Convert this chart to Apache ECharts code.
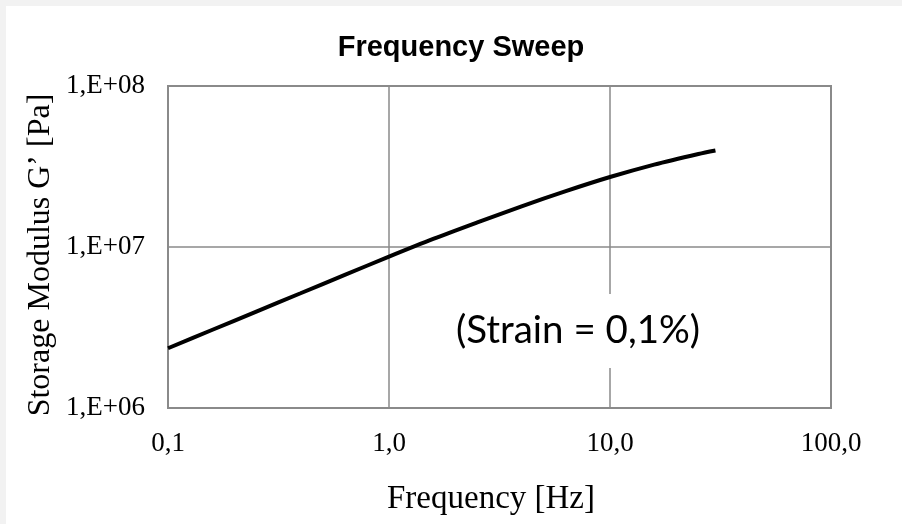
<!DOCTYPE html>
<html><head><meta charset="utf-8">
<script src="https://cdn.jsdelivr.net/npm/echarts@6/dist/echarts.min.js"></script>
<style>html,body{margin:0;padding:0;background:#fff}#c{width:902px;height:524px}</style>
</head><body><div id="c"></div>
<script>
const frequencies = [0.1, 0.158, 0.251, 0.398, 0.631, 1.0, 1.585, 2.512, 3.981, 6.31, 10, 15.85, 25.12, 30];
const storageModulus = [2.35e6, 3.05e6, 3.97e6, 5.16e6, 6.71e6, 8.71e6, 1.122e7, 1.422e7, 1.79e7, 2.223e7, 2.72e7, 3.25e7, 3.784e7, 3.98e7];
const xTickLabels = ['0,1', '1,0', '10,0', '100,0'];
const yTickLabels = ['1,E+06', '1,E+07', '1,E+08'];
const titleText = 'Frequency Sweep';
const xName = 'Frequency [Hz]';
const yName = 'Storage Modulus G’ [Pa]';
const note = '(Strain = 0,1%)';

const chart = echarts.init(document.getElementById('c'));
const gridColor = '#8a8a8a';
const serif = 'Liberation Serif';
chart.setOption({
  animation: false,
  backgroundColor: '#fff',
  grid: { left: 168, top: 86, width: 663, height: 322, show: true, borderColor: gridColor, borderWidth: 2, backgroundColor: 'transparent' },
  xAxis: {
    type: 'log', logBase: 10, min: 0.1, max: 100,
    axisLine: { show: true, lineStyle: { color: gridColor, width: 2 } },
    axisTick: { show: false },
    splitLine: { show: true, lineStyle: { color: gridColor, width: 1.5 } },
    minorSplitLine: { show: false },
    axisLabel: {
      color: '#000', fontFamily: serif, fontSize: 27, margin: 22,
      formatter: v => xTickLabels[Math.round(Math.log10(v)) + 1]
    }
  },
  yAxis: {
    type: 'log', logBase: 10, min: 1e6, max: 1e8,
    axisLine: { show: true, lineStyle: { color: gridColor, width: 2 } },
    axisTick: { show: false },
    splitLine: { show: true, lineStyle: { color: gridColor, width: 1.5 } },
    axisLabel: {
      color: '#000', fontFamily: serif, fontSize: 27, margin: 23,
      formatter: v => yTickLabels[Math.round(Math.log10(v)) - 6]
    }
  },
  series: [{
    type: 'line',
    data: frequencies.map((f, i) => [f, storageModulus[i]]),
    showSymbol: false,
    smooth: 0.3,
    lineStyle: { color: '#000', width: 4 },
    z: 5
  }],
  graphic: [
    { type: 'rect', left: 0, top: 0, shape: { width: 902, height: 6 }, style: { fill: '#f2f2f2' }, z: 0 },
    { type: 'rect', left: 0, top: 0, shape: { width: 6, height: 524 }, style: { fill: '#f2f2f2' }, z: 0 },
    { type: 'text', x: 461, y: 47.5, z: 100, style: { text: titleText, font: 'bold 29px "Liberation Sans"', fill: '#000', align: 'center', verticalAlign: 'middle' } },
    { type: 'text', x: 491, y: 499, z: 100, style: { text: xName, font: '33px "Liberation Serif"', fill: '#000', align: 'center', verticalAlign: 'middle' } },
    { type: 'text', x: 41, y: 255, rotation: Math.PI / 2, z: 100, style: { text: yName, font: '32px "Liberation Serif"', fill: '#000', align: 'center', verticalAlign: 'middle' } },
    { type: 'text', x: 578, y: 331, z: 100, style: { text: note, font: '38.5px Lato', fill: '#000', align: 'center', verticalAlign: 'middle', backgroundColor: '#fff', padding: [19, 10, 16, 10] } }
  ]
});
</script></body></html>
